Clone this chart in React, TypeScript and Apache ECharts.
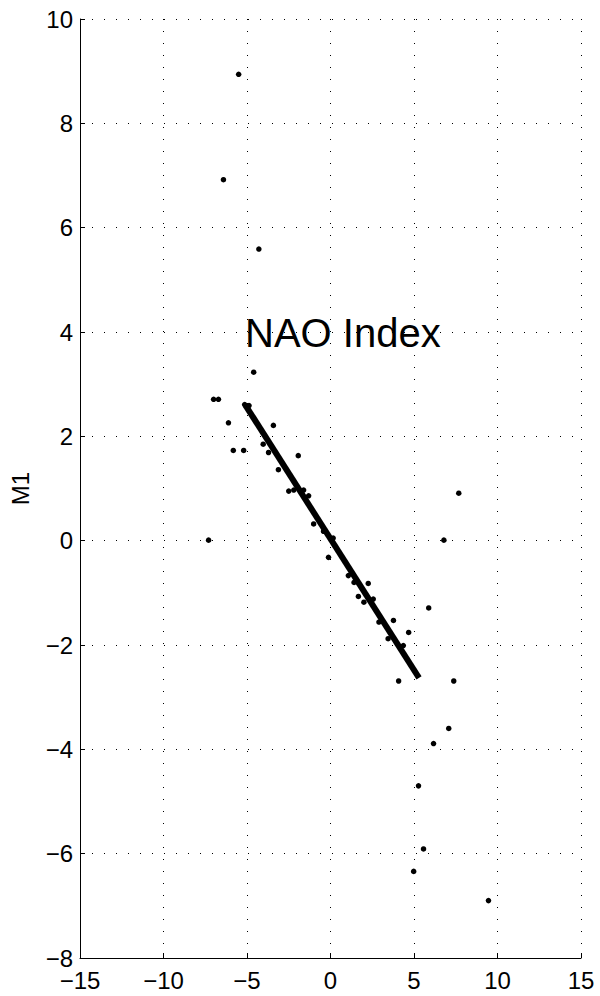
import React, { useEffect, useRef } from "react";
import * as echarts from "echarts";

const pointsX = [
  -5.5, -6.41, -4.29, -4.6, -7.0, -6.71, -5.14, -4.88, -6.11, -3.42, -5.82, -5.2, -4.03, -3.71,
  -1.93, -3.12, -2.5, -2.2, -1.61, -1.31, -1.01, -0.42, 0.16, -7.3, -0.12, 7.68, 6.79, 1.07,
  1.41, 2.26, 1.67, 2.0, 2.56, 5.88, 2.9, 3.77, 4.68, 3.45, 4.36, 4.08, 7.38, 7.08, 6.17, 5.27,
  5.57, 4.98, 9.46,
];
const pointsY = [
  8.94, 6.92, 5.59, 3.23, 2.71, 2.71, 2.61, 2.59, 2.26, 2.21, 1.73, 1.73, 1.85, 1.69, 1.63, 1.36,
  0.95, 0.97, 0.97, 0.86, 0.32, 0.18, 0.05, 0.01, -0.32, 0.91, 0.01, -0.67, -0.8, -0.82, -1.07,
  -1.18, -1.12, -1.29, -1.56, -1.53, -1.76, -1.88, -2.01, -2.69, -2.69, -3.6, -3.89, -4.7, -5.91,
  -6.34, -6.9,
];
const fitX = [-5.1, 5.3];
const fitY = [2.6, -2.63];
const xTicks = { min: -15, max: 15, interval: 5 };
const yTicks = { min: -8, max: 10, interval: 2 };
const yName = "M1";
const annotation = "NAO Index";

const FONT = "'Liberation Sans', Arial, Helvetica, sans-serif";
const fmt = (v: number) => String(v).replace("-", "\u2212");

export default function App() {
  const ref = useRef<HTMLDivElement>(null);
  useEffect(() => {
    if (!ref.current) return;
    const chart = echarts.init(ref.current, undefined, { renderer: "svg" });
    const gridDots = { show: true, lineStyle: { color: "#000", width: 1, type: [1, 11] as any } };
    chart.setOption({
      animation: false,
      backgroundColor: "#fff",
      grid: { left: 77, right: 19, top: 19, bottom: 38, containLabel: false },
      xAxis: {
        type: "value",
        min: xTicks.min,
        max: xTicks.max,
        interval: xTicks.interval,
        axisLine: { show: true, onZero: false, lineStyle: { color: "#000", width: 1 } },
        axisTick: { show: true, inside: true, length: 5, lineStyle: { color: "#000" } },
        axisLabel: { formatter: fmt, color: "#000", fontSize: 24, fontFamily: FONT, margin: 10 },
        splitLine: gridDots,
      },
      yAxis: {
        type: "value",
        min: yTicks.min,
        max: yTicks.max,
        interval: yTicks.interval,
        name: yName,
        nameLocation: "middle",
        nameRotate: 90,
        nameGap: 48,
        nameTextStyle: { color: "#000", fontSize: 24, fontFamily: FONT },
        axisLine: { show: true, onZero: false, lineStyle: { color: "#000", width: 1 } },
        axisTick: { show: true, inside: true, length: 5, lineStyle: { color: "#000" } },
        axisLabel: { formatter: fmt, color: "#000", fontSize: 24, fontFamily: FONT, margin: 7 },
        splitLine: gridDots,
      },
      graphic: [
        {
          type: "text",
          x: 245,
          y: 333,
          style: {
            text: annotation,
            fill: "#000",
            fontSize: 40,
            fontFamily: FONT,
            verticalAlign: "middle",
            align: "left",
          },
        },
      ],
      series: [
        {
          type: "line",
          data: fitX.map((x, i) => [x, fitY[i]]),
          symbol: "none",
          lineStyle: { color: "#000", width: 6, cap: "butt", opacity: 1 },
          z: 3,
        },
        {
          type: "scatter",
          data: pointsX.map((x, i) => [x, pointsY[i]]),
          symbol: "circle",
          symbolSize: 5.5,
          itemStyle: { color: "#000", opacity: 1 },
          z: 4,
        },
      ],
    });
    return () => chart.dispose();
  }, []);
  return (
    <div
      ref={ref}
      style={{ position: "fixed", left: 0, top: 0, width: 600, height: 996, background: "#fff" }}
    />
  );
}
